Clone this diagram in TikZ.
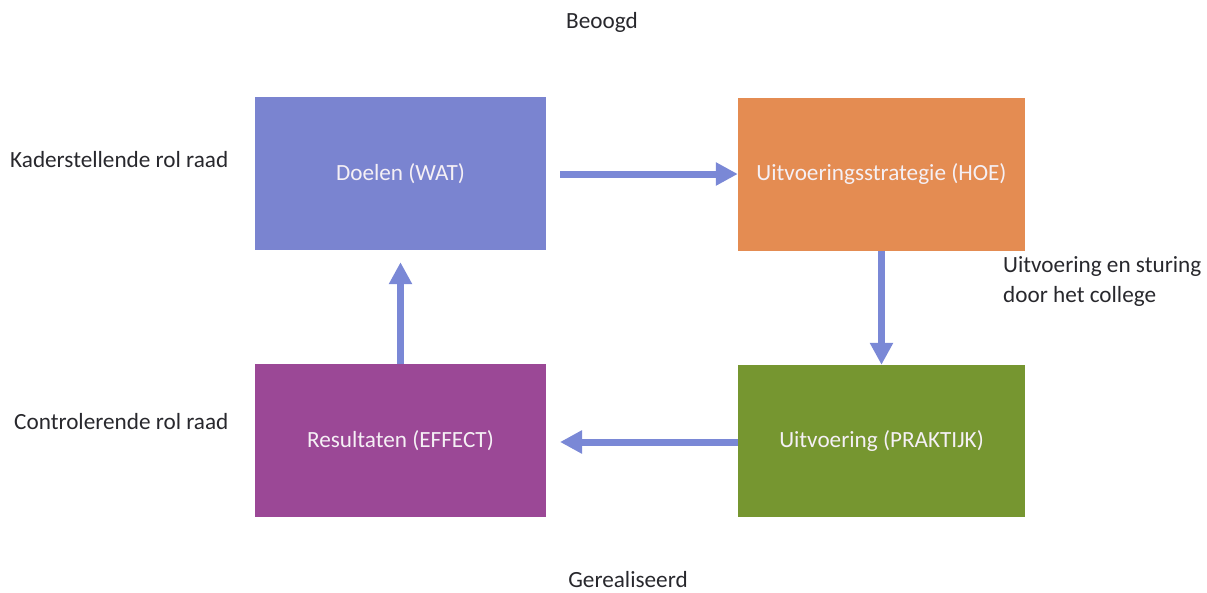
\documentclass[tikz,border=0pt]{standalone}
\usepackage{fontspec}
\setmainfont{Carlito}
\usetikzlibrary{arrows.meta}
\definecolor{cblue}{RGB}{122,132,208}
\definecolor{corange}{RGB}{228,140,82}
\definecolor{cgreen}{RGB}{118,150,48}
\definecolor{cpurple}{RGB}{155,72,150}
\definecolor{carrow}{RGB}{122,136,214}
\definecolor{ctext}{RGB}{40,40,45}
\tikzset{
  box/.style={draw=none, minimum width=291pt, minimum height=153pt, text={rgb,255:red,245;green,240;blue,245}, font=\fontsize{23.2}{28}\selectfont, inner sep=0pt},
  lbl/.style={text=ctext, font=\fontsize{23.2}{30}\selectfont, inner sep=0pt},
  flow/.style={draw=carrow, line width=7pt, -{Triangle[width=22pt,length=22pt]}, shorten >=0pt}
}
\begin{document}
\begin{tikzpicture}[x=1pt,y=1pt]
\useasboundingbox (0,0) rectangle (1207,-592);
\node[box, fill=cblue] (doel) at (400.5,-173.5) {Doelen (WAT)};
\node[box, fill=corange, minimum width=287pt] (strat) at (881.5,-174) {Uitvoeringsstrategie (HOE)};
\node[box, fill=cgreen, minimum width=287pt, minimum height=152pt] (prak) at (881.5,-441) {Uitvoering (PRAKTIJK)};
\node[box, fill=cpurple] (res) at (400.5,-440.5) {Resultaten (EFFECT)};
\node[lbl] (beoogd) at (602,-22) {Beoogd};
\node[lbl] (geral) at (628,-580) {Gerealiseerd};
\node[lbl, anchor=west] (kader) at (10,-160) {Kaderstellende rol raad};
\node[lbl, anchor=west] (contr) at (14,-422) {Controlerende rol raad};
\node[lbl, anchor=west, align=left] (uitv) at (1003,-282) {Uitvoering en sturing\\door het college};
\coordinate (a1s) at (560,-174);
\coordinate (a3s) at (560,-442);
\draw[flow] (a1s) -- (strat.west |- a1s);
\draw[flow] (strat.south) -- (prak.north);
\draw[flow] (prak.west |- a3s) -- (a3s);
\draw[flow] (res.north) -- ([yshift=-12pt]doel.south);
\end{tikzpicture}
\end{document}
